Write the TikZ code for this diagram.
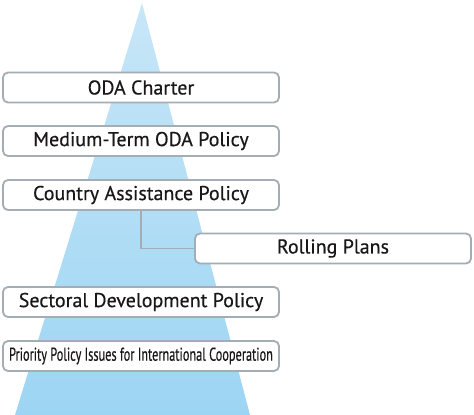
\documentclass[tikz,border=0pt]{standalone}
\usepackage{fontspec}
\setmainfont{PT Sans}[FakeBold=0.4]
\usetikzlibrary{positioning}

\definecolor{boxline}{HTML}{A3ADB3}
\definecolor{textcol}{HTML}{1A1718}
\definecolor{pyrtop}{HTML}{C8E6F8}
\definecolor{pyrbot}{HTML}{9CD5F3}

\begin{document}
\begin{tikzpicture}[x=1pt,y=-1pt,thick,
  policy box/.style={rectangle,rounded corners=5pt,draw=boxline,line width=1.8pt,
    fill=white,minimum width=276pt,minimum height=30pt,inner sep=0pt,
    text=textcol,font=\fontsize{20}{22}\selectfont}]

  \useasboundingbox (0,0) rectangle (474,415);

  % pyramid behind the boxes
  \shade[top color=pyrtop,bottom color=pyrbot] (142,3) -- (250,415) -- (15,415) -- cycle;

  \node[policy box] (charter) at (141,87.5) {ODA Charter};
  \node[policy box] (medium) at (141,141) {Medium-Term ODA Policy};
  \node[policy box] (country) at (141,195) {Country Assistance Policy};
  \node[policy box] (rolling) at (333,248.5) {Rolling Plans};
  \node[policy box] (sector) at (141,302) {Sectoral Development Policy};
  \node[policy box,font=\fontsize{18.5}{20}\selectfont] (priority) at (141,356)
    {\scalebox{0.665}[1]{Priority Policy Issues for International Cooperation}};

  \draw[boxline,line width=1.8pt] (country.south) |- (rolling.west);
\end{tikzpicture}
\end{document}
